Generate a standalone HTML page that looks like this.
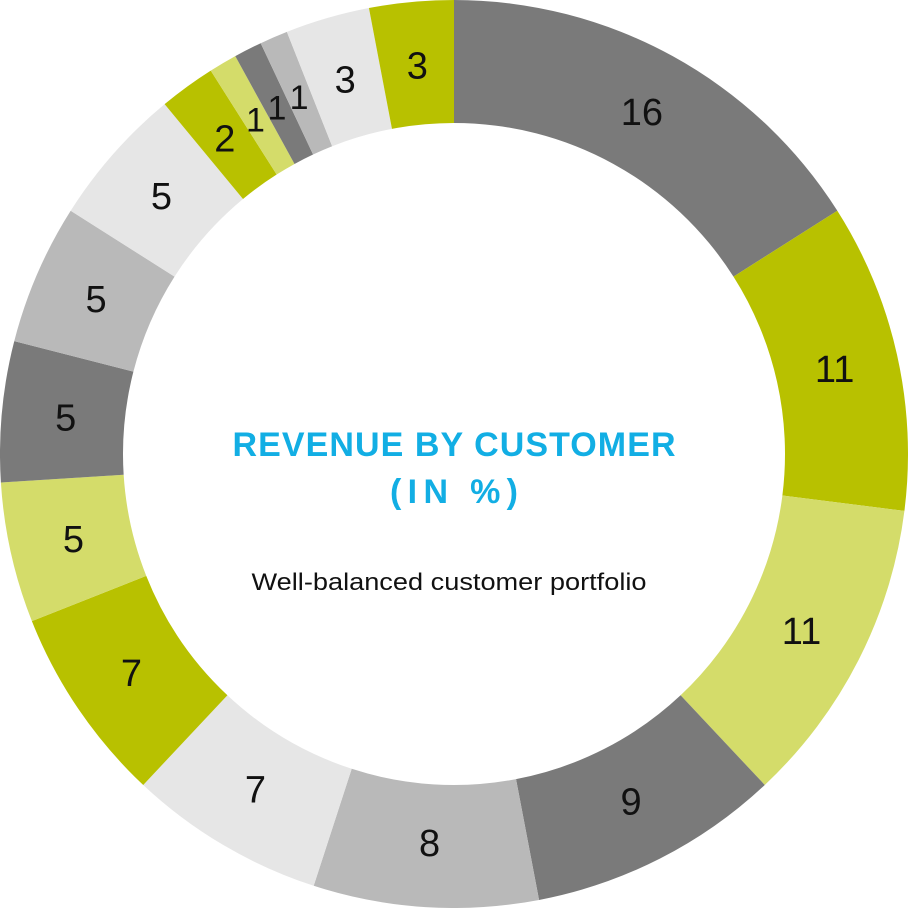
<!DOCTYPE html>
<html><head><meta charset="utf-8"><style>
html,body{margin:0;padding:0;background:#fff;width:908px;height:908px;overflow:hidden}
</style></head><body>
<svg id="s" width="908" height="908" viewBox="0 0 908 908" xmlns="http://www.w3.org/2000/svg">
<text x="454" y="456" text-anchor="middle" font-family="Liberation Sans, sans-serif" font-size="34" font-weight="bold" fill="#12aee4" textLength="443" lengthAdjust="spacing">REVENUE BY CUSTOMER</text>
<text x="454" y="503" text-anchor="middle" font-family="Liberation Sans, sans-serif" font-size="34" font-weight="bold" fill="#12aee4" textLength="128" lengthAdjust="spacing">(IN %)</text>
<text x="449" y="590" text-anchor="middle" font-family="Liberation Sans, sans-serif" font-size="24" fill="#111" textLength="395" lengthAdjust="spacingAndGlyphs">Well-balanced customer portfolio</text>
</svg>
<script>
var vals=[16,11,11,9,8,7,7,5,5,5,5,2,1,1,1,3,3];
var D="#7a7a7a",O="#b8c100",L="#d4dc6a",M="#b9b9b9",G="#e6e6e6";
var cols=[D,O,L,D,M,G,O,L,D,M,G,O,L,D,M,G,O];
var cx=454,cy=454,R=454,r=331,s=document.getElementById('s');
var acc=0,html="";
function pt(rad,p){var a=p/100*2*Math.PI;return [cx+rad*Math.sin(a),cy-rad*Math.cos(a)];}
for(var i=0;i<vals.length;i++){
 var a0=acc,a1=acc+vals[i];acc=a1;
 var p1=pt(R,a0),p2=pt(R,a1),p3=pt(r,a1),p4=pt(r,a0),lg=vals[i]>50?1:0;
 html+='<path d="M'+p1+' A'+R+' '+R+' 0 '+lg+' 1 '+p2+' L'+p3+' A'+r+' '+r+' 0 '+lg+' 0 '+p4+' Z" fill="'+cols[i]+'"/>';
 var m=pt(390,(a0+a1)/2);
 var fs=vals[i]<2?34:38;
 html+='<text x="'+m[0]+'" y="'+(m[1]+13)+'" text-anchor="middle" font-family="Liberation Sans, sans-serif" font-size="'+fs+'" fill="#111">'+vals[i]+'</text>';
}
s.insertAdjacentHTML('afterbegin',html);
</script>
</body></html>
